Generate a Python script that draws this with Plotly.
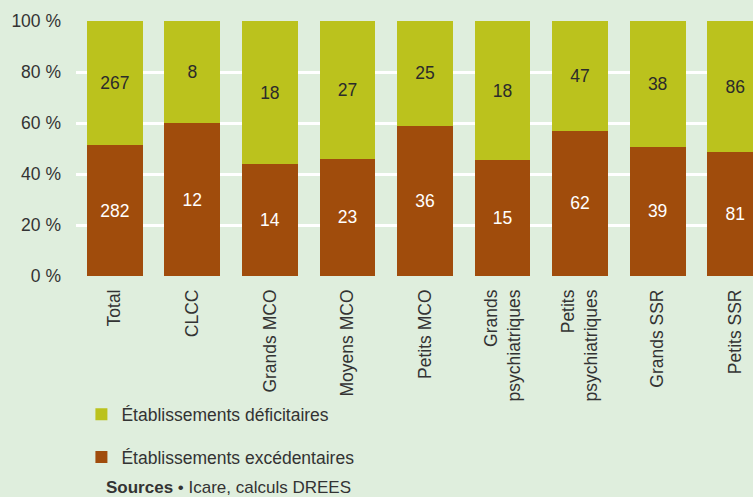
import plotly.graph_objects as go

categories = ["Total", "CLCC", "Grands MCO", "Moyens MCO", "Petits MCO",
              "Grands<br>psychiatriques", "Petits<br>psychiatriques", "Grands SSR", "Petits SSR"]
excedentaires = [282, 12, 14, 23, 36, 15, 62, 39, 81]
deficitaires = [267, 8, 18, 27, 25, 18, 47, 38, 86]
y_ticks = [0, 20, 40, 60, 80, 100]
y_ticktext = ["0 %", "20 %", "40 %", "60 %", "80 %", "100 %"]

BG = "#dfeedd"
GREEN = "#bbc21d"
BROWN = "#a04c0c"
FONT = "Liberation Sans, Arial, sans-serif"
FS = 17.5

x = list(range(len(categories)))

fig = go.Figure()
fig.add_trace(go.Bar(
    x=x, y=excedentaires, name="Établissements excédentaires",
    marker=dict(color=BROWN, line=dict(width=0)),
    text=[str(v) for v in excedentaires], textposition="inside",
    insidetextanchor="middle", textfont=dict(color="white", size=FS, family=FONT),
    legendgroup="b", legendrank=2, width=0.72,
))
fig.add_trace(go.Bar(
    x=x, y=deficitaires, name="Établissements déficitaires",
    marker=dict(color=GREEN, line=dict(width=0)),
    text=[str(v) for v in deficitaires], textposition="inside",
    insidetextanchor="middle", textfont=dict(color="#2b2b2b", size=FS, family=FONT),
    legendgroup="a", legendrank=1, width=0.72,
))

fig.update_layout(
    width=753, height=497,
    margin=dict(l=76, r=0, t=21, b=221),
    paper_bgcolor=BG, plot_bgcolor=BG,
    barmode="stack", barnorm="percent",
    font=dict(family=FONT, size=FS, color="#333333"),
    showlegend=True,
    legend=dict(
        x=0.008, y=-0.472, xanchor="left", yanchor="top",
        orientation="v", traceorder="grouped", tracegroupgap=17,
        font=dict(size=FS, color="#333333"), bgcolor="rgba(0,0,0,0)",
        itemwidth=30,
    ),
    xaxis=dict(
        tickmode="array", tickvals=x, ticktext=categories,
        tickangle=-90, range=[-0.5, 8.23], showgrid=False, zeroline=False,
        showline=False, ticks="", tickfont=dict(size=FS, color="#333333"),
        ticklabelstandoff=9,
    ),
    yaxis=dict(
        range=[0, 100], tickmode="array", tickvals=y_ticks, ticktext=y_ticktext,
        showgrid=True, gridcolor="white", gridwidth=3, zeroline=False,
        showline=False, ticks="", tickfont=dict(size=FS, color="#333333"),
        ticklabelstandoff=14,
    ),
    annotations=[dict(
        xref="paper", yref="paper", x=(104 - 76) / 677, y=-(487 - 276) / 255,
        xanchor="left", yanchor="middle", showarrow=False,
        text="<b>Sources</b> • Icare, calculs DREES",
        font=dict(size=17, color="#333333", family=FONT),
    )],
)

fig.write_html("out.html")
